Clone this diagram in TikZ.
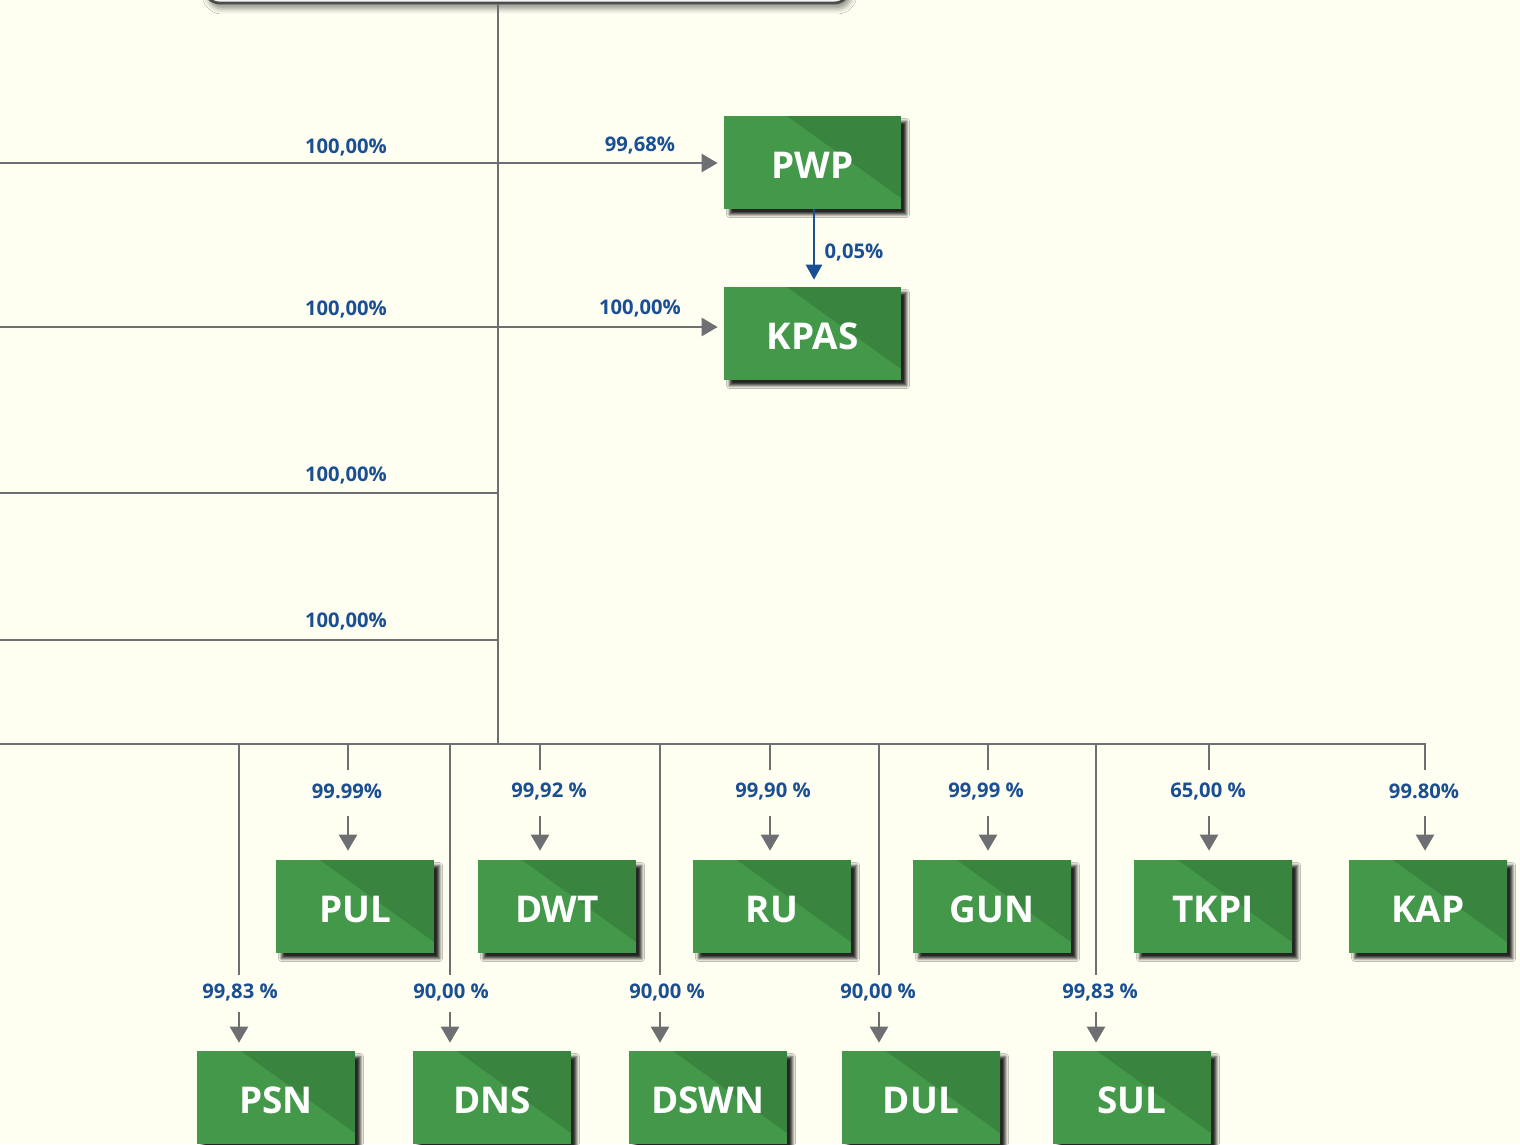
\documentclass[tikz,border=0pt]{standalone}
\usepackage{fontspec}
\setmainfont{Open Sans}
\usetikzlibrary{arrows.meta,shadows.blur}

\definecolor{paper}{HTML}{FEFEF1}
\definecolor{boxgreen}{HTML}{43984A}
\definecolor{boxdark}{HTML}{39843F}
\definecolor{pctblue}{HTML}{1B4F93}
\definecolor{linegray}{HTML}{6E6F73}

\tikzset{
  company/.style={fill=boxgreen, text=white, inner sep=0pt,
    minimum width=3.16cm, minimum height=1.86cm,
    text height=0.65cm, text depth=0pt,
    font=\fontsize{21}{24}\selectfont\bfseries,
    blur shadow={shadow xshift=0.11cm, shadow yshift=-0.11cm,
      shadow blur radius=0.06cm, shadow opacity=85},
    path picture={\fill[boxdark]
      ([xshift=-2.28cm]path picture bounding box.north east)
      -- (path picture bounding box.north east)
      -- ([yshift=0.22cm]path picture bounding box.south east) -- cycle;}},
  share/.style={text=pctblue, font=\fontsize{11.5}{13}\selectfont\bfseries, inner sep=0pt},
  gline/.style={draw=linegray, line width=1.35pt},
  garrow/.style={gline, -{Triangle[length=0.32cm,width=0.36cm]}},
  barrow/.style={draw=pctblue, line width=1.5pt, -{Triangle[length=0.3cm,width=0.32cm]}}
}

\begin{document}
\begin{tikzpicture}[x=0.02cm,y=-0.02cm]
	\fill[paper] (0,0) rectangle (1520,1144);
	\useasboundingbox (0,0) rectangle (1520,1144);

	% parent box, only its lower edge shows
	\node[draw=black!70, line width=1.6pt, fill=white!96!black, rounded corners=0.3cm,
	  minimum width=12.9cm, minimum height=1.72cm,
	  blur shadow={shadow xshift=0.05cm, shadow yshift=-0.12cm, shadow blur radius=0.1cm}]
	  (parent) at (527,-40) {};

	\coordinate (hub) at (498,744);
	\coordinate (w1) at (0,163);
	\coordinate (w2) at (0,327);
	\coordinate (w3) at (0,493);
	\coordinate (w4) at (0,640);
	\coordinate (busend) at (1425,744);

	% trunk and branches
	\draw[gline] (parent.south -| hub) -- (hub);
	\draw[gline] (w3) -- (w3 -| hub);
	\draw[gline] (w4) -- (w4 -| hub);
	\draw[gline] (0,744) -- (busend) -- ++(0,26);

	\node[company, minimum width=3.54cm] (pwp) at (812.5,162.5) {PWP};
	\node[company, minimum width=3.54cm] (kpas) at (812.5,333.5) {KPAS};

	\coordinate (pk) at (814,0);
	\draw[garrow] (w1) -- ([xshift=-0.12cm]w1 -| pwp.west);
	\draw[garrow] (w2) -- ([xshift=-0.12cm]w2 -| pwp.west);
	\draw[barrow] (pwp.south -| pk) -- ([yshift=0.14cm]kpas.north -| pk);

	\node[share] (s1) at (346,147) {100,00\%};
	\node[share] (s2) at (346,309) {100,00\%};
	\node[share] (s3) at (346,475) {100,00\%};
	\node[share] (s4) at (346,621) {100,00\%};
	\node[share] (s5) at (640,145) {99,68\%};
	\node[share] (s6) at (640,308) {100,00\%};
	\node[share] (s7) at (854,252) {0,05\%};

	% first row of subsidiaries
	\foreach \name/\txt/\bx/\lx/\px/\pct in {pul/PUL/355/348/347/{99.99\%},
	    dwt/DWT/557/540/549/{99,92 \%}, ru/RU/772/770/773/{99,90 \%},
	    gun/GUN/992/988/986/{99,99 \%}, tkpi/TKPI/1213/1209/1208/{65,00 \%},
	    kap/KAP/1428/1425/1424/{99.80\%}}{
	  \node[company] (\name) at (\bx,906.5) {\txt};
	  \node[share] (p-\name) at (\px,791) {\pct};
	  \coordinate (j-\name) at (\lx,744);
	  \draw[gline] (j-\name) -- ++(0,26);
	  \draw[garrow] (\lx,816) -- ([yshift=0.18cm]\name.north -| j-\name);
	}

	% second row of subsidiaries
	\foreach \name/\txt/\bx/\lx/\px/\pct in {psn/PSN/276/239/240/{99,83 \%},
	    dns/DNS/492/450/451/{90,00 \%}, dswn/DSWN/708/660/667/{90,00 \%},
	    dul/DUL/921/879/878/{90,00 \%}, sul/SUL/1132/1096/1100/{99,83 \%}}{
	  \node[company] (\name) at (\bx,1097.5) {\txt};
	  \node[share] (p-\name) at (\px,992) {\pct};
	  \coordinate (j-\name) at (\lx,744);
	  \draw[gline] (j-\name) -- (\lx,975);
	  \draw[garrow] (\lx,1012) -- ([yshift=0.16cm]\name.north -| j-\name);
	}
\end{tikzpicture}
\end{document}
